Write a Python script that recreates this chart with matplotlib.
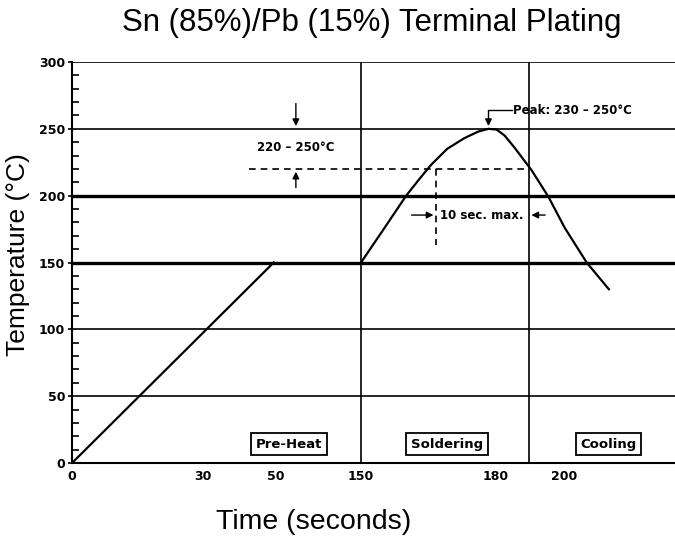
import numpy as np
import matplotlib.pyplot as plt
from matplotlib.ticker import MultipleLocator

# oś X jest schematyczna (nieliniowa) - pozycje w jednostkach wykresu
x_ticks = [0, 65, 101, 143, 210, 244]
x_labels = ['0', '30', '50', '150', '180', '200']
y_ticks = [0, 50, 100, 150, 200, 250, 300]

# rampa podgrzewania
preheat_x = [0, 100]
preheat_t = [0, 150]

# profil lutowania
solder_x = [143.3, 155, 165.7, 172, 178, 186, 194.5, 201.5, 206.5, 210.5, 214.5, 219.4, 227.9, 236.3, 244.3, 255.2, 266.2]
solder_t = [150, 176, 200, 212, 223, 235, 243, 248, 250, 249.5, 245, 236, 219, 199, 176, 150, 130]

zone_x = [143.3, 226.4]          # pionowe linie stref
thick_t = [150, 200]
thin_t = [50, 100, 250, 300]
liquidus = 220

zones = ['Pre-Heat', 'Soldering', 'Cooling']
zones_x = [107.5, 186, 266]

plt.rcParams['font.family'] = ['Liberation Sans', 'DejaVu Sans']

fig = plt.figure(figsize=(6.75, 5.43), dpi=100)
ax = fig.add_axes([0.1067, 0.1473, 0.8933, 0.7385])

for t in thin_t:
    ax.axhline(t, color='black', lw=1.2, zorder=1)
for t in thick_t:
    ax.axhline(t, color='black', lw=2.4, zorder=1)
for x in zone_x:
    ax.axvline(x, color='black', lw=1.2, zorder=1)

ax.plot(preheat_x, preheat_t, color='black', lw=1.6, zorder=3)
ax.plot(solder_x, solder_t, color='black', lw=1.6, zorder=3)

# linie przerywane 220°C i 10 s
ax.plot([87.6, 226.4], [liquidus, liquidus], color='black', lw=1.2, ls=(0, (4, 3)), zorder=2)
ax.plot([180.6, 180.6], [liquidus, 163], color='black', lw=1.2, ls=(0, (4, 3)), zorder=2)

ap = dict(arrowstyle='-|>', color='black', lw=1.0, mutation_scale=10)
ax.annotate('', xy=(111, 250), xytext=(111, 271), arrowprops=ap)
ax.annotate('', xy=(111, 220), xytext=(111, 204), arrowprops=ap)
ax.text(111, 236, '220 – 250°C', ha='center', va='center', fontsize=8.5,
        fontweight='bold', family=['DejaVu Sans'])

ax.plot([218, 206.5, 206.5], [264, 264, 256], color='black', lw=1.0)
ax.annotate('', xy=(206.5, 250), xytext=(206.5, 257), arrowprops=ap)
ax.text(218.5, 264, 'Peak: 230 – 250°C', ha='left', va='center', fontsize=8.5,
        fontweight='bold', family=['DejaVu Sans'])

ax.annotate('', xy=(180.6, 185.5), xytext=(167, 185.5), arrowprops=ap)
ax.annotate('', xy=(226.4, 185.5), xytext=(236, 185.5), arrowprops=ap)
ax.text(182.5, 185.5, '10 sec. max.', ha='left', va='center', fontsize=8.5,
        fontweight='bold', family=['DejaVu Sans'])

for name, zx in zip(zones, zones_x):
    ax.text(zx, 14, name, ha='center', va='center', fontsize=9.5, fontweight='bold',
            family=['DejaVu Sans'],
            bbox=dict(boxstyle='square,pad=0.35', fc='white', ec='black', lw=1.3))

ax.set_xlim(0, 299)
ax.set_ylim(0, 300)
ax.set_xticks(x_ticks)
ax.set_xticklabels(x_labels)
ax.set_yticks(y_ticks)
ax.yaxis.set_minor_locator(MultipleLocator(10))
ax.tick_params(axis='x', length=0, pad=5)
ax.tick_params(axis='y', which='major', direction='out', length=3, width=1.2, pad=2)
ax.tick_params(axis='y', which='minor', direction='in', length=5, width=1.2)
for lab in ax.get_xticklabels() + ax.get_yticklabels():
    lab.set_fontsize(9)
    lab.set_fontweight('bold')
    lab.set_family(['DejaVu Sans'])

for s in ['top', 'right']:
    ax.spines[s].set_visible(False)
ax.spines['left'].set_linewidth(1.5)
ax.spines['bottom'].set_linewidth(1.5)

fig.text(0.551, 0.957, 'Sn (85%)/Pb (15%) Terminal Plating', ha='center', va='center', fontsize=22.5)
fig.text(0.464, 0.039, 'Time (seconds)', ha='center', va='center', fontsize=20.5)
fig.text(0.027, 0.531, 'Temperature (°C)', ha='center', va='center', fontsize=19, rotation=90)

plt.savefig('out.png', dpi=100)
